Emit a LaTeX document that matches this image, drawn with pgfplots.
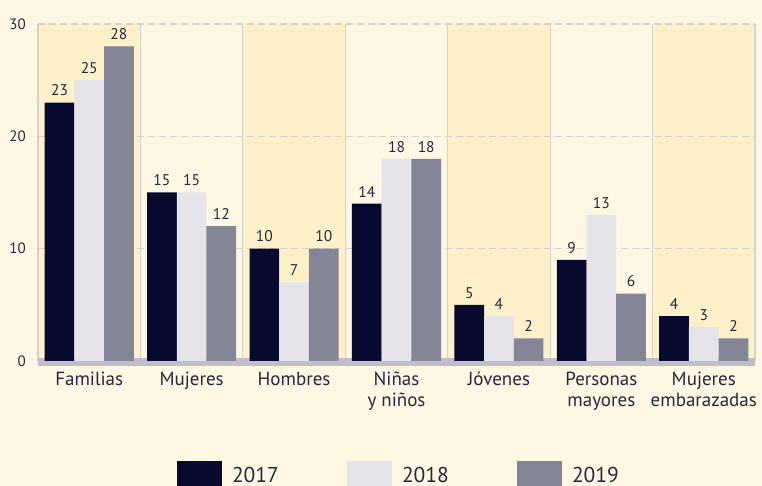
\documentclass[border=0pt]{standalone}
\usepackage{pgfplots}
\pgfplotsset{compat=1.18}
\usepackage{fontspec}
\setmainfont{PT Sans}
\definecolor{pagebg}{HTML}{FEF7E4}
\definecolor{colbg}{HTML}{FEF0C9}
\definecolor{sepc}{HTML}{D6D3CE}
\definecolor{gridc}{HTML}{D6D3CE}
\definecolor{bandc}{HTML}{C0BFC9}
\definecolor{c17}{HTML}{070A2E}
\definecolor{c18}{HTML}{E5E4EA}
\definecolor{c19}{HTML}{848597}
\definecolor{txt}{HTML}{27273F}
\begin{document}
\begin{tikzpicture}
\fill[pagebg] (-38pt,-120pt) rectangle (724pt,366pt);
\begin{axis}[
  at={(0,0)}, anchor=south west,
  scale only axis, width=717pt, height=342pt,
  xmin=-0.5, xmax=6.5, ymin=-0.45, ymax=30,
  clip=false,
  axis line style={draw=none},
  tick style={draw=none}, major tick length=0pt,
  /pgf/number format/assume math mode=true,
  ytick={0,10,20,30},
  yticklabel style={font=\fontsize{15}{18}\selectfont, text=txt, anchor=east, inner sep=0pt, xshift=-12pt},
  xtick={0,...,6},
  xticklabels={Familias, Mujeres, Hombres, {Niñas\\y niños}, Jóvenes, {Personas\\mayores}, {Mujeres\\embarazadas}},
  xticklabel style={font=\fontsize{19}{21}\selectfont, text=txt, align=center, anchor=north, inner sep=0pt, yshift=-6pt},
  ybar, bar width=0.29,
  nodes near coords,
  every node near coord/.append style={font=\fontsize{15.5}{18}\selectfont, text=txt, yshift=3pt},
  legend columns=3,
  legend style={at={(axis description cs:0.19386,-0.27778)}, anchor=north west, draw=none, fill=none, inner sep=0pt, outer sep=0pt,
    font=\fontsize{21.5}{24}\selectfont, text=txt,
    nodes={inner sep=0pt, text width=46pt, align=left, yshift=9.5pt},
    /tikz/every odd column/.append style={column sep=10pt},
    /tikz/every even column/.append style={column sep=69pt}},
  legend image code/.code={\fill[#1,/tikz/.cd] (0pt,-8pt) rectangle (45pt,24pt);},
]
% column backgrounds
\fill[colbg] (axis cs:-0.5,-0.45) rectangle (axis cs:0.5,30);
\fill[colbg] (axis cs:1.5,-0.45) rectangle (axis cs:2.5,30);
\fill[colbg] (axis cs:3.5,-0.45) rectangle (axis cs:4.5,30);
\fill[colbg] (axis cs:5.5,-0.45) rectangle (axis cs:6.5,30);
% separators
\pgfplotsinvokeforeach{-0.5,0.5,1.5,2.5,3.5,4.5,5.5,6.5}{
  \draw[sepc, line width=1.2pt] (axis cs:#1,0) -- (axis cs:#1,30);
}
% dashed gridlines
\pgfplotsinvokeforeach{10,20,30}{
  \draw[gridc, line width=1.4pt, dash pattern=on 7pt off 4pt] (axis cs:-0.5,#1) -- (axis cs:6.5,#1);
}
% base band
\fill[bandc] (axis cs:-0.5,-0.45) rectangle (axis cs:6.5,0.27);
\addplot[fill=c17, draw=none, bar shift=-0.29] coordinates {(0,23) (1,15) (2,10) (3,14) (4,5) (5,9) (6,4)};
\addplot[fill=c18, draw=none, bar shift=0] coordinates {(0,25) (1,15) (2,7) (3,18) (4,4) (5,13) (6,3)};
\addplot[fill=c19, draw=none, bar shift=0.29] coordinates {(0,28) (1,12) (2,10) (3,18) (4,2) (5,6) (6,2)};
\legend{2017,2018,2019}
\end{axis}
\pgfresetboundingbox
\path[use as bounding box] (-38pt,-120pt) rectangle (724pt,366pt);
\end{tikzpicture}
\end{document}
